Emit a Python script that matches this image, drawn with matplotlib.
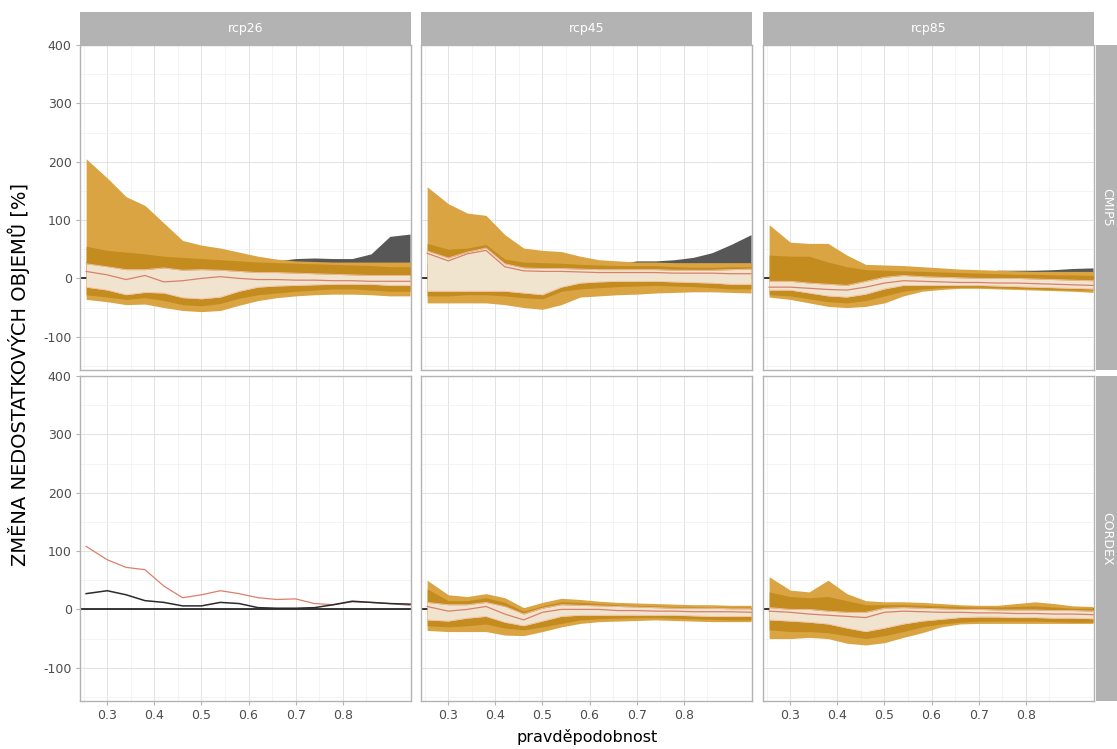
import matplotlib
matplotlib.use("Agg")
import matplotlib.pyplot as plt
from matplotlib.patches import Rectangle
import numpy as np

plt.rcParams['font.family'] = ['DejaVu Sans']

x = [0.255, 0.30, 0.34, 0.38, 0.42, 0.46, 0.50, 0.54, 0.58, 0.62, 0.66, 0.70, 0.74, 0.78, 0.82, 0.86, 0.90, 0.943]

scenarios = ["rcp26", "rcp45", "rcp85"]
sources = ["CMIP5", "CORDEX"]

# CMIP5 rcp26
c26_grey_hi = [30, 30, 30, 30, 30, 30, 30, 30, 30, 30, 30, 34, 35, 34, 34, 42, 72, 76]
c26_outer_hi = [205, 172, 140, 125, 95, 65, 57, 52, 45, 38, 33, 30, 29, 28, 28, 28, 28, 28]
c26_mid_hi = [55, 48, 45, 42, 38, 36, 34, 32, 30, 28, 27, 26, 25, 24, 23, 22, 20, 20]
c26_inner_hi = [25, 20, 15, 15, 18, 14, 15, 14, 12, 10, 10, 9, 8, 7, 6, 5, 5, 5]
c26_median = [12, 6, -2, 5, -6, -4, 0, 3, 0, -2, -2, -3, -3, -4, -4, -5, -5, -5]
c26_inner_lo = [-15, -20, -28, -24, -25, -33, -35, -32, -22, -15, -13, -12, -11, -10, -10, -10, -12, -12]
c26_mid_lo = [-28, -32, -36, -33, -38, -45, -47, -43, -34, -28, -25, -22, -20, -18, -18, -20, -22, -22]
c26_outer_lo = [-36, -40, -45, -44, -50, -55, -57, -55, -46, -38, -33, -30, -28, -27, -27, -28, -30, -30]

# CMIP5 rcp45
c45_grey_hi = [25, 25, 25, 25, 25, 25, 25, 25, 25, 25, 25, 30, 30, 32, 36, 44, 58, 75]
c45_outer_hi = [157, 128, 112, 108, 75, 52, 48, 46, 38, 32, 30, 28, 28, 27, 27, 27, 27, 27]
c45_mid_hi = [60, 50, 52, 58, 33, 28, 27, 26, 24, 23, 22, 22, 22, 20, 19, 19, 20, 20]
c45_inner_hi = [47, 35, 45, 52, 25, 18, 17, 17, 16, 15, 15, 15, 15, 14, 14, 14, 15, 16]
c45_median = [43, 30, 42, 48, 20, 13, 12, 12, 11, 10, 10, 10, 10, 9, 9, 9, 8, 8]
c45_inner_lo = [-22, -22, -22, -22, -22, -25, -28, -15, -8, -6, -5, -5, -5, -6, -7, -8, -10, -10]
c45_mid_lo = [-30, -30, -28, -28, -30, -33, -35, -22, -18, -16, -14, -13, -12, -13, -14, -16, -18, -18]
c45_outer_lo = [-42, -42, -42, -42, -45, -50, -53, -45, -32, -30, -28, -27, -25, -24, -23, -23, -24, -25]

# CMIP5 rcp85
c85_grey_hi = [5, 5, 5, 5, 5, 5, 5, 5, 5, 5, 5, 5, 14, 14, 14, 15, 17, 18]
c85_outer_hi = [92, 62, 60, 60, 40, 24, 23, 22, 20, 18, 16, 15, 14, 13, 12, 12, 12, 12]
c85_mid_hi = [40, 38, 38, 28, 20, 15, 14, 13, 12, 11, 10, 9, 8, 7, 7, 6, 6, 5]
c85_inner_hi = [-5, -5, -8, -10, -12, -5, 2, 5, 3, 2, 1, 0, 0, 0, -1, -2, -3, -4]
c85_median = [-15, -15, -17, -19, -20, -15, -8, -4, -5, -6, -7, -7, -8, -8, -9, -10, -11, -12]
c85_inner_lo = [-20, -20, -25, -30, -32, -27, -18, -12, -12, -12, -12, -12, -13, -14, -15, -16, -17, -18]
c85_mid_lo = [-28, -30, -35, -40, -42, -38, -30, -22, -18, -16, -15, -15, -16, -17, -18, -19, -20, -20]
c85_outer_lo = [-32, -36, -42, -48, -50, -48, -42, -30, -22, -19, -17, -17, -18, -19, -20, -21, -22, -24]

# CORDEX rcp26 (lines only)
d26_red = [108, 85, 72, 68, 40, 20, 25, 32, 27, 20, 17, 18, 10, 8, 13, 12, 10, 7]
d26_black = [27, 32, 25, 15, 12, 6, 6, 12, 10, 3, 2, 2, 3, 8, 14, 12, 10, 9]

# CORDEX rcp45
d45_outer_hi = [50, 25, 22, 27, 20, 3, 12, 19, 17, 14, 12, 11, 10, 9, 8, 8, 7, 7]
d45_mid_hi = [35, 15, 15, 20, 12, -3, 6, 13, 12, 10, 8, 7, 6, 5, 5, 4, 4, 4]
d45_inner_hi = [12, 8, 8, 12, 5, -8, 2, 8, 7, 6, 5, 4, 3, 2, 2, 2, 1, 1]
d45_median = [5, -3, 0, 5, -8, -18, -5, 0, 0, 0, -2, -2, -3, -3, -4, -4, -4, -5]
d45_inner_lo = [-18, -20, -15, -12, -22, -28, -20, -12, -10, -10, -10, -10, -10, -10, -11, -12, -12, -12]
d45_mid_lo = [-28, -30, -28, -25, -32, -35, -30, -24, -18, -16, -15, -14, -14, -15, -16, -17, -18, -18]
d45_outer_lo = [-36, -38, -38, -38, -44, -45, -38, -30, -24, -21, -20, -19, -18, -19, -20, -21, -21, -21]

# CORDEX rcp85
d85_outer_hi = [56, 33, 30, 50, 27, 15, 13, 13, 12, 10, 8, 7, 7, 10, 13, 10, 6, 5]
d85_mid_hi = [30, 22, 20, 22, 15, 8, 8, 8, 7, 6, 5, 4, 4, 5, 6, 4, 2, 2]
d85_inner_hi = [3, 0, 0, -3, -5, -5, 2, 3, 2, 1, 0, 0, -1, -1, -1, -2, -2, -3]
d85_median = [-3, -5, -8, -10, -12, -14, -5, -3, -4, -5, -5, -6, -6, -7, -7, -8, -8, -9]
d85_inner_lo = [-18, -20, -22, -25, -32, -38, -32, -25, -20, -17, -14, -13, -13, -14, -14, -15, -15, -16]
d85_mid_lo = [-35, -38, -38, -40, -45, -50, -45, -38, -30, -25, -22, -20, -20, -20, -20, -21, -22, -22]
d85_outer_lo = [-50, -50, -48, -50, -58, -61, -57, -48, -40, -30, -25, -24, -24, -24, -24, -24, -24, -24]

C_OUTER = "#D9A441"
C_MID = "#C48C1F"
C_INNER = "#F1E4CF"
C_GREY = "#575757"
C_MED = "#D9806C"

W, H = 1117, 749
fig = plt.figure(figsize=(W / 100, H / 100), dpi=100)

col_x = [80, 421, 763]
pw = 331
row_y = [45, 376]
ph = 325

def fx(px):
    return px / W

def fy(py):
    return 1 - py / H

panels = {
    (0, 0): dict(grey=c26_grey_hi, outer=(c26_outer_lo, c26_outer_hi), mid=(c26_mid_lo, c26_mid_hi),
                 inner=(c26_inner_lo, c26_inner_hi), med=c26_median),
    (0, 1): dict(grey=c45_grey_hi, outer=(c45_outer_lo, c45_outer_hi), mid=(c45_mid_lo, c45_mid_hi),
                 inner=(c45_inner_lo, c45_inner_hi), med=c45_median),
    (0, 2): dict(grey=c85_grey_hi, outer=(c85_outer_lo, c85_outer_hi), mid=(c85_mid_lo, c85_mid_hi),
                 inner=(c85_inner_lo, c85_inner_hi), med=c85_median),
    (1, 0): dict(lines=(d26_red, d26_black)),
    (1, 1): dict(outer=(d45_outer_lo, d45_outer_hi), mid=(d45_mid_lo, d45_mid_hi),
                 inner=(d45_inner_lo, d45_inner_hi), med=d45_median),
    (1, 2): dict(outer=(d85_outer_lo, d85_outer_hi), mid=(d85_mid_lo, d85_mid_hi),
                 inner=(d85_inner_lo, d85_inner_hi), med=d85_median),
}

xt = [0.3, 0.4, 0.5, 0.6, 0.7, 0.8]
xminor = [0.25, 0.35, 0.45, 0.55, 0.65, 0.75, 0.85]
yt = [-100, 0, 100, 200, 300, 400]
yminor = [-150, -50, 50, 150, 250, 350]

for r in range(2):
    for c in range(3):
        left = fx(col_x[c])
        bottom = fy(row_y[r] + ph)
        ax = fig.add_axes([left, bottom, pw / W, ph / H])
        ax.set_xlim(0.242, 0.945)
        ax.set_ylim(-157, 400)
        ax.set_xticks(xt)
        ax.set_xticks(xminor, minor=True)
        ax.set_yticks(yt)
        ax.set_yticks(yminor, minor=True)
        ax.grid(which='major', color='#DEDEDE', lw=0.6)
        ax.grid(which='minor', color='#EDEDED', lw=0.4)
        ax.set_axisbelow(True)
        for s in ax.spines.values():
            s.set_color('#B3B3B3')
            s.set_linewidth(1.0)
        ax.tick_params(which='minor', length=0)
        ax.tick_params(which='major', length=3, color='#B3B3B3', labelsize=9, labelcolor='#4D4D4D', pad=3)
        if c != 0:
            ax.tick_params(axis='y', labelleft=False, length=0)
        else:
            ax.set_yticklabels([str(v) for v in yt])
        if r != 1:
            ax.tick_params(axis='x', labelbottom=False, length=0)
        else:
            ax.set_xticklabels([f"{v:.1f}" for v in xt])

        ax.axhline(0, color='black', lw=1.1, zorder=1)
        d = panels[(r, c)]
        if 'grey' in d:
            ax.fill_between(x, [0] * len(x), d['grey'], color=C_GREY, lw=0, zorder=2)
        if 'outer' in d:
            ax.fill_between(x, d['outer'][0], d['outer'][1], color=C_OUTER, lw=0, zorder=3)
            ax.fill_between(x, d['mid'][0], d['mid'][1], color=C_MID, lw=0, zorder=4)
            ax.fill_between(x, d['inner'][0], d['inner'][1], color=C_INNER, lw=0, zorder=5)
            ax.plot(x, d['inner'][0], color='#F4BFA8', lw=0.6, zorder=5)
            ax.plot(x, d['inner'][1], color='#F4BFA8', lw=0.6, zorder=5)
            ax.plot(x, d['med'], color=C_MED, lw=0.9, zorder=6)
        if 'lines' in d:
            ax.plot(x, d['lines'][0], color=C_MED, lw=0.9, zorder=6)
            ax.plot(x, d['lines'][1], color='#2B2B2B', lw=1.1, zorder=6)

        if r == 0:
            fig.patches.append(Rectangle((left, fy(row_y[0])), pw / W, 33 / H,
                                         transform=fig.transFigure, facecolor='#B3B3B3',
                                         edgecolor='none'))
            fig.text(left + pw / W / 2, fy(row_y[0]) + 16.5 / H, scenarios[c],
                     color='white', fontsize=9, ha='center', va='center')
        if c == 2:
            sx = fx(col_x[2] + pw + 2)
            fig.patches.append(Rectangle((sx, bottom), (W - col_x[2] - pw - 2) / W, ph / H,
                                         transform=fig.transFigure, facecolor='#B3B3B3',
                                         edgecolor='none'))
            fig.text(sx + (W - col_x[2] - pw - 2) / W / 2, bottom + ph / H / 2, sources[r],
                     color='white', fontsize=9, ha='center', va='center', rotation=-90)

fig.text(fx(19), fy(375), "ZMĚNA NEDOSTATKOVÝCH OBJEMŮ [%]", rotation=90,
         ha='center', va='center', fontsize=14, color='black')
fig.text(fx(587), fy(737), "pravděpodobnost", ha='center', va='center', fontsize=11.5, color='black')

fig.savefig("out.png", dpi=100)
